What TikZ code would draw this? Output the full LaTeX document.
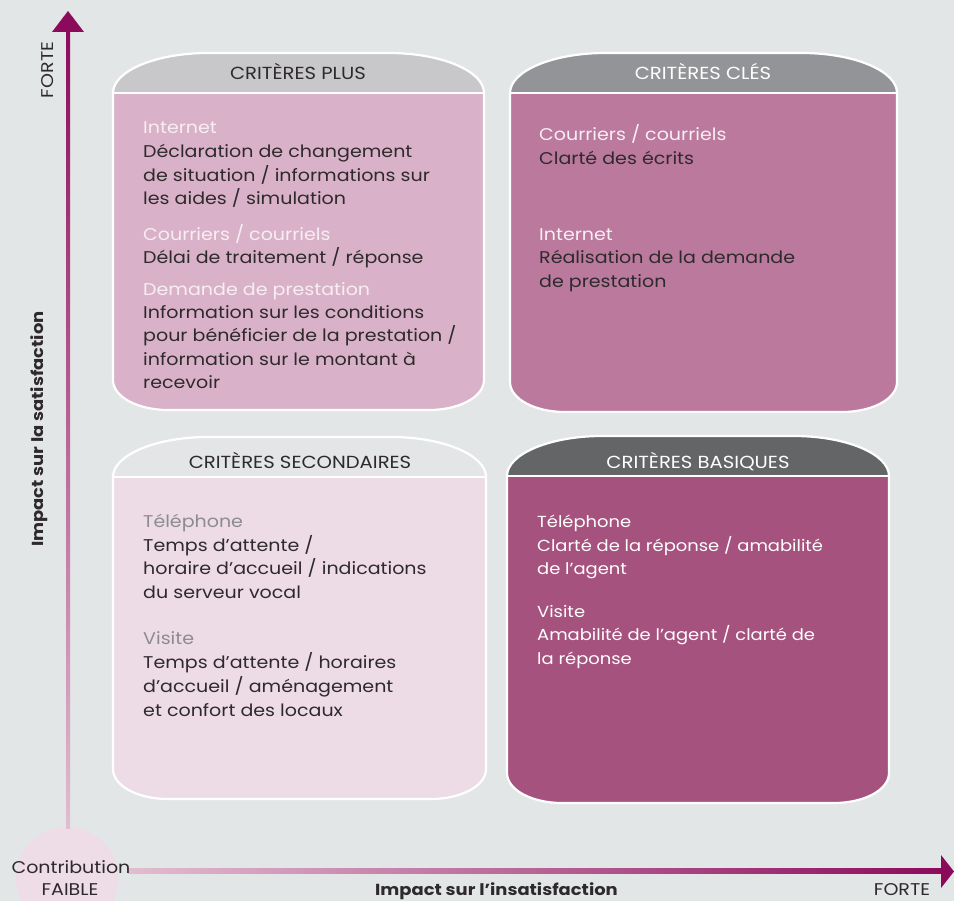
\documentclass[tikz,border=0pt]{standalone}
\usepackage{fontspec}
\setmainfont{Poppins}[FakeStretch=1.12]
\definecolor{bg}{HTML}{E3E6E7}
\definecolor{txt}{HTML}{2E2A2C}
\definecolor{axisdark}{HTML}{8C0A5C}
\definecolor{axislight}{HTML}{E2BDD1}
\definecolor{disc}{HTML}{EEDCE6}
\definecolor{plushead}{HTML}{C8C8CA}
\definecolor{plusbody}{HTML}{D9B2C9}
\definecolor{clehead}{HTML}{939497}
\definecolor{clebody}{HTML}{BB7A9D}
\definecolor{sechead}{HTML}{E3E5E6}
\definecolor{secbody}{HTML}{EDDCE6}
\definecolor{bashead}{HTML}{646567}
\definecolor{basbody}{HTML}{A6527E}
\definecolor{subwhite}{HTML}{F7EEF3}
\definecolor{subgrey}{HTML}{8C8C8C}

% outline of a criteria panel: left, top, right, bottom
\newcommand{\panelpath}[4]{(#1,#2+40) .. controls (#1,#2+18) and (#1+43,#2) .. (#1+95,#2)
  -- (#3-95,#2) .. controls (#3-43,#2) and (#3,#2+18) .. (#3,#2+40)
  -- (#3,#4-30) .. controls (#3,#4-13) and (#3-25,#4) .. (#3-55,#4)
  -- (#1+55,#4) .. controls (#1+25,#4) and (#1,#4-13) .. (#1,#4-30) -- cycle}

% panel with header band: left, top, right, bottom, header colour, body colour
\newcommand{\critpanel}[6]{%
  \begin{scope}
    \clip \panelpath{#1}{#2}{#3}{#4};
    \fill[#5] (#1,#2) rectangle (#3,#2+40);
    \fill[#6] (#1,#2+40) rectangle (#3,#4);
  \end{scope}
  \draw[white, line width=2.2pt] \panelpath{#1}{#2}{#3}{#4};
  \draw[white, line width=2.2pt] (#1,#2+40) -- (#3,#2+40);
}

\tikzset{
  body/.style={anchor=base west, inner sep=0pt, font=\fontsize{17}{20}\selectfont, text=txt},
  bodyw/.style={body, text=white, font=\fontsize{16}{20}\selectfont},
  subw/.style={body, text=subwhite},
  subg/.style={body, text=subgrey},
  headtxt/.style={anchor=base, inner sep=0pt, font=\fontsize{17.5}{20}\selectfont},
  axislbl/.style={inner sep=0pt, font=\fontsize{17}{20}\selectfont, text=txt},
  axistitle/.style={inner sep=0pt, font=\bfseries\fontsize{16}{20}\selectfont, text=txt},
}

\begin{document}
\begin{tikzpicture}[x=1pt, y=-1pt]
\useasboundingbox (0,0) rectangle (954,901);
\fill[bg] (0,0) rectangle (954,901);

% origin disc
\fill[disc] (67,878) circle (51);

% vertical axis
\shade[bottom color=axislight, top color=axisdark] (66,828) rectangle (70,31);
\fill[axisdark] (52,32) -- (84,32) -- (68,11) -- cycle;

% horizontal axis
\shade[left color=axislight, right color=axisdark] (128,868) rectangle (943,873);
\fill[axisdark] (941,855) -- (941,888) -- (954,871.5) -- cycle;

% axis labels
\node[axislbl, rotate=90, anchor=base] (yforte) at (53,70) {FORTE};
\node[axistitle, rotate=90, anchor=base] (ytitle) at (43,429) {Impact sur la satisfaction};
\node[axislbl, anchor=base] (contrib) at (71,873) {Contribution};
\node[axislbl, anchor=base] (faible) at (70,895) {FAIBLE};
\node[axistitle, anchor=base west] (xtitle) at (375,895) {Impact sur l’insatisfaction};
\node[axislbl, anchor=base] (xforte) at (902,895) {FORTE};

% panels
\critpanel{113}{53}{484}{410}{plushead}{plusbody}
\critpanel{510}{53}{897}{412}{clehead}{clebody}
\critpanel{113}{437}{486}{799}{sechead}{secbody}
\critpanel{507}{436}{889}{803}{bashead}{basbody}

% headers
\node[headtxt, text=txt] (hplus) at (298,80) {CRITÈRES PLUS};
\node[headtxt, text=white] (hcles) at (703,80) {CRITÈRES CLÉS};
\node[headtxt, text=txt] (hsec) at (300,468) {CRITÈRES SECONDAIRES};
\node[headtxt, text=white] (hbas) at (698,468) {CRITÈRES BASIQUES};

% criteria plus
\node[subw] (p1) at (143,134) {Internet};
\node[body] (p2) at (143,158) {Déclaration de changement};
\node[body] (p3) at (143,182) {de situation / informations sur};
\node[body] (p4) at (143,205) {les aides / simulation};
\node[subw] (p5) at (143,241) {Courriers / courriels};
\node[body] (p6) at (143,264) {Délai de traitement / réponse};
\node[subw] (p7) at (143,296) {Demande de prestation};
\node[body] (p8) at (143,319) {Information sur les conditions};
\node[body] (p9) at (143,342) {pour bénéficier de la prestation /};
\node[body] (p10) at (143,366) {information sur le montant à};
\node[body] (p11) at (143,389) {recevoir};

% criteria cles
\node[subw] (c1) at (539,141) {Courriers / courriels};
\node[body] (c2) at (539,165) {Clarté des écrits};
\node[subw] (c3) at (539,241) {Internet};
\node[body] (c4) at (539,264) {Réalisation de la demande};
\node[body] (c5) at (539,288) {de prestation};

% criteria secondaires
\node[subg] (s1) at (143,527) {Téléphone};
\node[body] (s2) at (143,551) {Temps d’attente /};
\node[body] (s3) at (143,574) {horaire d’accueil / indications};
\node[body] (s4) at (143,598) {du serveur vocal};
\node[subg] (s5) at (143,644) {Visite};
\node[body] (s6) at (143,668) {Temps d’attente / horaires};
\node[body] (s7) at (143,692) {d’accueil / aménagement};
\node[body] (s8) at (143,716) {et confort des locaux};

% criteria basiques
\node[bodyw] (b1) at (537,527) {Téléphone};
\node[bodyw] (b2) at (537,551) {Clarté de la réponse / amabilité};
\node[bodyw] (b3) at (537,574) {de l’agent};
\node[bodyw] (b4) at (537,617) {Visite};
\node[bodyw] (b5) at (537,640) {Amabilité de l’agent / clarté de};
\node[bodyw] (b6) at (537,664) {la réponse};
\end{tikzpicture}
\end{document}
